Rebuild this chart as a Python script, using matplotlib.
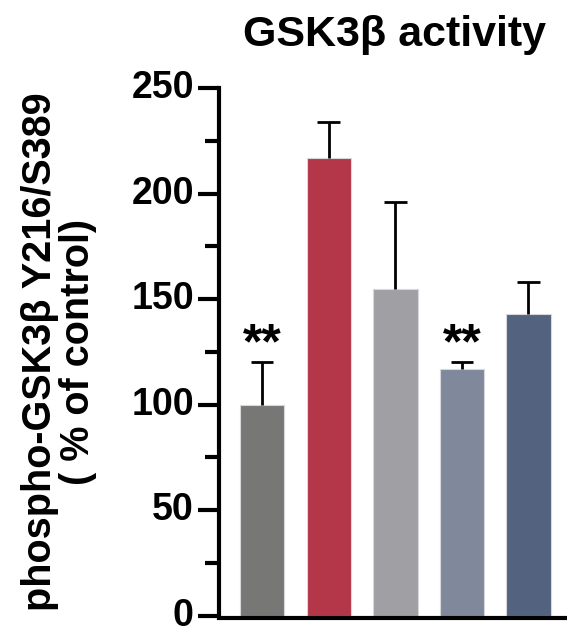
import matplotlib
matplotlib.use("Agg")
import matplotlib.pyplot as plt
from matplotlib.ticker import MultipleLocator

groups = ["G1", "G2", "G3", "G4", "G5"]
values = [100, 217, 155, 117, 143]
errors = [20, 17, 41, 3, 15]
colors = ["#777875", "#B33649", "#A0A0A4", "#80889C", "#53627F"]
sig = ["**", "", "", "**", ""]
yticks = [0, 50, 100, 150, 200, 250]

plt.rcParams['font.family'] = ['Liberation Sans', 'DejaVu Sans']
plt.rcParams['font.weight'] = 'bold'

fig = plt.figure(figsize=(5.67, 6.34), dpi=100)
ax = fig.add_axes([0.386, 0.029, 0.62, 0.832])
x = list(range(len(groups)))
ax.bar(x, values, width=0.667, color=colors, edgecolor="#d8d8dc", linewidth=0.8, zorder=2)
tops = [v + e for v, e in zip(values, errors)]
ax.vlines(x, values, tops, color='black', linewidth=2, zorder=3)
ax.hlines(tops, [xi - 0.17 for xi in x], [xi + 0.17 for xi in x], color='black', linewidth=2, zorder=3)
for xi, t, s in zip(x, tops, sig):
    if s:
        ax.text(xi, 120 - 3, s, ha='center', va='bottom', fontsize=36, fontweight='bold')

ax.set_xlim(-0.65, 4.63)
ax.set_ylim(0, 250)
ax.set_yticks(yticks)
ax.set_yticklabels([str(t) for t in yticks])
ax.yaxis.set_minor_locator(MultipleLocator(25))
ax.set_xticks([])
for s in ['top', 'right']:
    ax.spines[s].set_visible(False)
for s in ['left', 'bottom']:
    ax.spines[s].set_linewidth(3)
ax.spines['bottom'].set_position(('outward', 2))
ax.tick_params(axis='y', which='major', length=15, width=3, labelsize=27, pad=3)
ax.tick_params(axis='y', which='minor', length=10, width=3)
for lbl in ax.get_yticklabels():
    lbl.set_fontweight('bold')
    lbl.set_verticalalignment('center')
ax.set_ylabel("phospho-GSK3β Y216/S389\n( % of control)", fontsize=28.5, fontweight='bold',
              linespacing=1.0, labelpad=25)
ax.set_title("GSK3β activity", fontsize=31, fontweight='bold', pad=30)
fig.savefig("out.png", dpi=100)
